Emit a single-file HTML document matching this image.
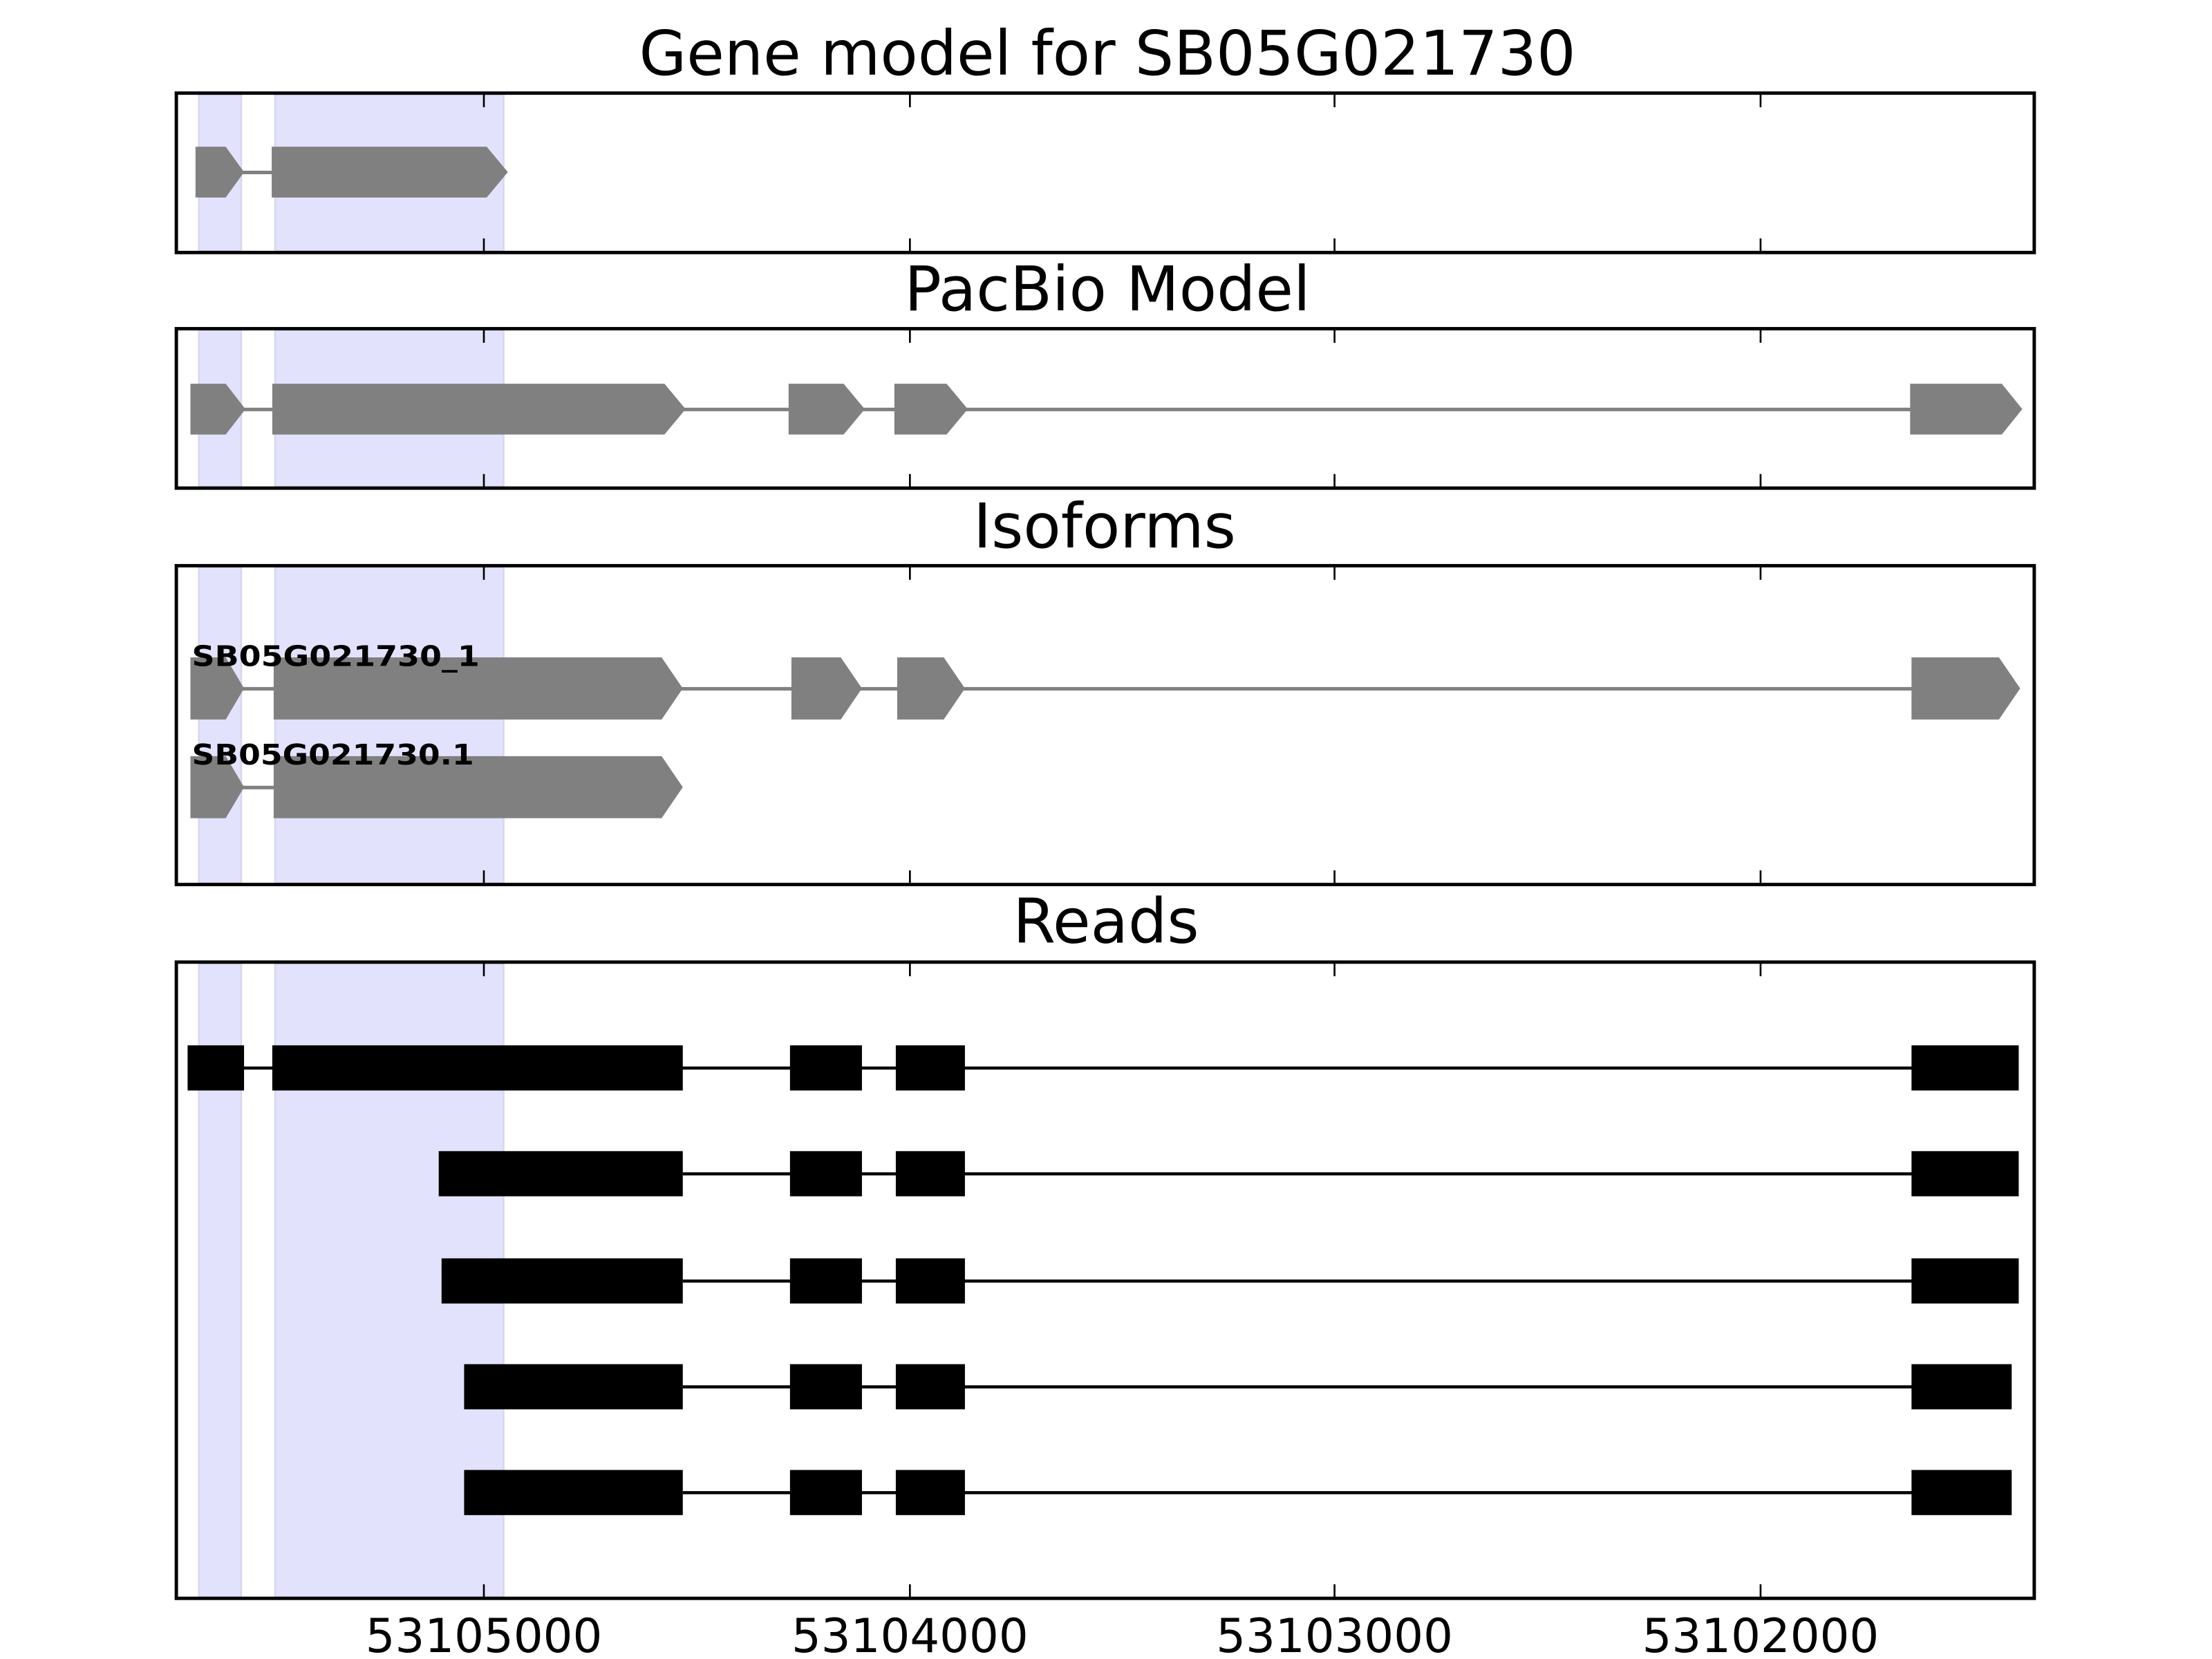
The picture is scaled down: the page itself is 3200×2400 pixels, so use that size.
<!DOCTYPE html>
<html><head><meta charset="utf-8"><style>html,body{margin:0;padding:0;background:#fff}svg{display:block}</style></head>
<body>
<svg xmlns="http://www.w3.org/2000/svg" width="3200" height="2400" viewBox="0 0 1568 1176">
<rect width="1568" height="1176" fill="#fff"/>
<g font-family="DejaVu Sans, Liberation Sans, sans-serif" fill="#000" text-anchor="middle">
<text x="785" y="53" font-size="43.5" textLength="664" lengthAdjust="spacingAndGlyphs">Gene model for SB05G021730</text>
<text x="785" y="220" font-size="43.5">PacBio Model</text>
<text x="783" y="388" font-size="43.5">Isoforms</text>
<text x="784" y="668" font-size="43.5">Reads</text>
<text x="343" y="1171" font-size="33">53105000</text>
<text x="645" y="1171" font-size="33">53104000</text>
<text x="946" y="1171" font-size="33">53103000</text>
<text x="1248" y="1171" font-size="33">53102000</text>
</g>
<g fill="#e2e2fc" stroke="#d6d6ee" stroke-width="1.2">
<rect x="141" y="67" width="30" height="111"/><rect x="195" y="67" width="162" height="111"/>
<rect x="141" y="234" width="30" height="111"/><rect x="195" y="234" width="162" height="111"/>
<rect x="141" y="402" width="30" height="224"/><rect x="195" y="402" width="162" height="224"/>
<rect x="141" y="683" width="30" height="449"/><rect x="195" y="683" width="162" height="449"/>
</g>
<g fill="#808080" stroke="none">
<rect x="150" y="121" width="50" height="2.5"/>
<polygon points="138.6,104 160,104 173,122 160,140 138.6,140"/>
<polygon points="192.6,104 345,104 360,122 345,140 192.6,140"/>
<rect x="160" y="289" width="1230" height="2.5"/>
<polygon points="135,272 160,272 174,290 160,308 135,308"/>
<polygon points="193,272 471,272 486,290 471,308 193,308"/>
<polygon points="559,272 598,272 613,290 598,308 559,308"/>
<polygon points="634,272 671,272 686,290 671,308 634,308"/>
<polygon points="1354,272 1419,272 1433.5,290 1419,308 1354,308"/>
<rect x="160" y="487" width="1230" height="2.5"/>
<polygon points="135,466 160,466 173,488 160,510 135,510"/>
<polygon points="194,466 469,466 484,488 469,510 194,510"/>
<polygon points="561,466 596,466 611,488 596,510 561,510"/>
<polygon points="636,466 669,466 684,488 669,510 636,510"/>
<polygon points="1355,466 1417,466 1432,488 1417,510 1355,510"/>
<rect x="160" y="557" width="50" height="2.5"/>
<polygon points="135,536 160,536 173,558 160,580 135,580"/>
<polygon points="194,536 469,536 484,558 469,580 194,580"/>
</g>
<g font-family="DejaVu Sans, Liberation Sans, sans-serif" font-weight="bold" font-size="20" fill="#000">
<text x="136" y="472" textLength="204" lengthAdjust="spacingAndGlyphs">SB05G021730_1</text>
<text x="136" y="542" textLength="200" lengthAdjust="spacingAndGlyphs">SB05G021730.1</text>
</g>
<g fill="#000">
<rect x="173" y="756" width="1200" height="2.2"/>
<rect x="133" y="741" width="40" height="32"/><rect x="193" y="741" width="291" height="32"/>
<rect x="560" y="741" width="51" height="32"/><rect x="635" y="741" width="49" height="32"/><rect x="1355" y="741" width="76" height="32"/>
<rect x="484" y="831" width="880" height="2.2"/>
<rect x="311" y="816" width="173" height="32"/>
<rect x="560" y="816" width="51" height="32"/><rect x="635" y="816" width="49" height="32"/><rect x="1355" y="816" width="76" height="32"/>
<rect x="484" y="907" width="880" height="2.2"/>
<rect x="313" y="892" width="171" height="32"/>
<rect x="560" y="892" width="51" height="32"/><rect x="635" y="892" width="49" height="32"/><rect x="1355" y="892" width="76" height="32"/>
<rect x="484" y="982" width="880" height="2.2"/>
<rect x="329" y="967" width="155" height="32"/>
<rect x="560" y="967" width="51" height="32"/><rect x="635" y="967" width="49" height="32"/><rect x="1355" y="967" width="71" height="32"/>
<rect x="484" y="1057" width="880" height="2.2"/>
<rect x="329" y="1042" width="155" height="32"/>
<rect x="560" y="1042" width="51" height="32"/><rect x="635" y="1042" width="49" height="32"/><rect x="1355" y="1042" width="71" height="32"/>
</g>
<g fill="none" stroke="#000" stroke-width="2.4">
<rect x="125" y="66" width="1317" height="113"/>
<rect x="125" y="233" width="1317" height="113"/>
<rect x="125" y="401" width="1317" height="226"/>
<rect x="125" y="682" width="1317" height="451"/>
</g>
<g stroke="#000" stroke-width="1.3">
<path d="M343,66v10M645,66v10M946,66v10M1248,66v10M343,179v-10M645,179v-10M946,179v-10M1248,179v-10"/>
<path d="M343,233v10M645,233v10M946,233v10M1248,233v10M343,346v-10M645,346v-10M946,346v-10M1248,346v-10"/>
<path d="M343,401v10M645,401v10M946,401v10M1248,401v10M343,627v-10M645,627v-10M946,627v-10M1248,627v-10"/>
<path d="M343,682v10M645,682v10M946,682v10M1248,682v10M343,1133v-10M645,1133v-10M946,1133v-10M1248,1133v-10"/>
</g>
</svg>
</body></html>
